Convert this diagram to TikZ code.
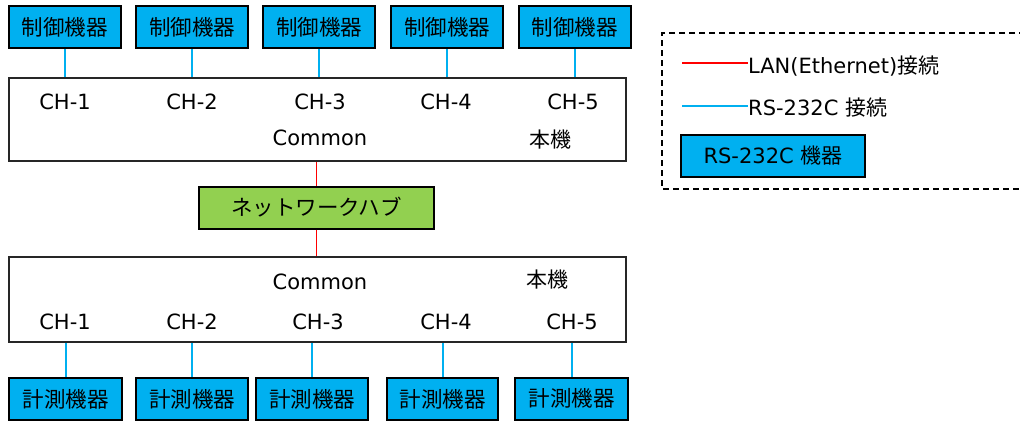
\documentclass[tikz,border=0pt]{standalone}
\usepackage{fontspec}
\setmainfont{DejaVu Sans}
\newfontfamily\jp{Noto Sans CJK JP}
\usetikzlibrary{positioning}

\definecolor{rsblue}{RGB}{0,176,240}
\definecolor{hubgreen}{RGB}{146,208,80}
\definecolor{lanred}{RGB}{255,0,0}

\begin{document}
\begin{tikzpicture}[x=1pt,y=-1pt,
	dev/.style={draw=black,line width=2pt,fill=rsblue,minimum width=112pt,minimum height=42pt,inner sep=0pt,font=\jp\fontsize{21.5}{25}\selectfont},
	host/.style={draw=black!85,line width=2pt,minimum width=617pt,inner sep=0pt},
	lbl/.style={anchor=base,inner sep=0pt,font=\fontsize{21}{25}\selectfont},
	jlbl/.style={inner sep=0pt,font=\jp\fontsize{21}{25}\selectfont},
	rs/.style={rsblue,line width=2pt},
	lan/.style={lanred,line width=1.6pt}]
	\useasboundingbox (0,0) rectangle (1020,421);

	% controllers
	\node[dev] (ctl1) at (64.5,27) {制御機器};
	\node[dev] (ctl2) at (192,27) {制御機器};
	\node[dev] (ctl3) at (319,27) {制御機器};
	\node[dev] (ctl4) at (447,27) {制御機器};
	\node[dev] (ctl5) at (574.5,27) {制御機器};

	% upper unit
	\node[host,minimum height=83pt] (hostA) at (317.5,119.5) {};
	\node[lbl] (chA1) at (65,109) {CH-1};
	\node[lbl] (chA2) at (192,109) {CH-2};
	\node[lbl] (chA3) at (320,109) {CH-3};
	\node[lbl] (chA4) at (446,109) {CH-4};
	\node[lbl] (chA5) at (573,109) {CH-5};
	\node[lbl] (comA) at (320,145) {Common};
	\node[jlbl] (selfA) at (550,140) {本機};

	% hub
	\node[draw=black,line width=2pt,fill=hubgreen,minimum width=235pt,minimum height=42pt,inner sep=0pt,font=\jp\fontsize{21.5}{25}\selectfont] (hub) at (316.5,207.5) {ネットワークハブ};

	% lower unit
	\node[host,minimum height=85pt] (hostB) at (317.5,299.5) {};
	\node[lbl] (comB) at (320,289) {Common};
	\node[jlbl] (selfB) at (547,280) {本機};
	\node[lbl] (chB1) at (65,329) {CH-1};
	\node[lbl] (chB2) at (192,329) {CH-2};
	\node[lbl] (chB3) at (318,329) {CH-3};
	\node[lbl] (chB4) at (446,329) {CH-4};
	\node[lbl] (chB5) at (572,329) {CH-5};

	% measuring units
	\node[dev,minimum width=113pt] (mes1) at (65.5,399) {計測機器};
	\node[dev] (mes2) at (192,399) {計測機器};
	\node[dev] (mes3) at (312,399) {計測機器};
	\node[dev,minimum width=111pt] (mes4) at (442.5,399) {計測機器};
	\node[dev,minimum width=113pt] (mes5) at (571.5,398.5) {計測機器};

	% connections
	\foreach \i in {1,...,5}{
		\draw[rs] (ctl\i.south) -- (ctl\i.south |- hostA.north);
		\draw[rs] (mes\i.north) -- (mes\i.north |- hostB.south);
	}
	\draw[lan] (hub.north) -- (hub.north |- hostA.south);
	\draw[lan] (hub.south) -- (hub.south |- hostB.north);

	% legend
	\draw[line width=1.8pt,dash pattern=on 6pt off 4pt] (1025,33) -- (662,33) -- (662,189) -- (1025,189);
	\coordinate (lanL) at (682,63);
	\coordinate (rsL) at (682,106);
	\node[lbl,anchor=base west] (lanT) at (748,73) {LAN(Ethernet){\jp 接続}};
	\node[lbl,anchor=base west] (rsT) at (748,115) {RS-232C {\jp 接続}};
	\draw[lan] (lanL) -- (lanL -| lanT.west);
	\draw[rs] (rsL) -- (rsL -| rsT.west);
	\node[dev,minimum width=184pt,font=\fontsize{21}{25}\selectfont] (rsdev) at (773,156) {RS-232C {\jp 機器}};
\end{tikzpicture}
\end{document}
